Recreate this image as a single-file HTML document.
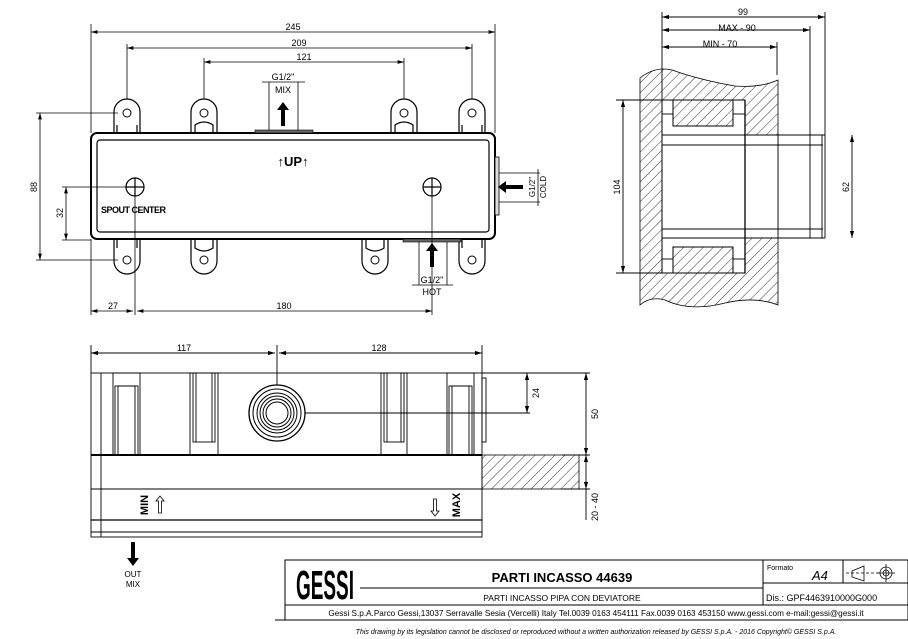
<!DOCTYPE html>
<html><head><meta charset="utf-8"><style>
html,body{margin:0;padding:0;background:#fff;width:908px;height:639px;overflow:hidden;}
svg{display:block;font-family:"Liberation Sans",sans-serif;}
</style></head><body>
<svg width="908" height="639" viewBox="0 0 908 639" xmlns="http://www.w3.org/2000/svg">
<defs>
<marker id="a" viewBox="0 0 10 6" refX="10" refY="3" markerWidth="8" markerHeight="5" orient="auto-start-reverse"><path d="M0,0L10,3L0,6z" fill="#000"/></marker>
<pattern id="h" width="7" height="7" patternUnits="userSpaceOnUse" patternTransform="rotate(45)"><line x1="0" y1="0" x2="0" y2="7" stroke="#000" stroke-width="0.8"/></pattern>
<g id="tabT"><path d="M-13,20 V-1 A13,13 0 0 1 13,-1 V20" fill="#fff" stroke="#000" stroke-width="1.2"/><circle r="4" fill="none" stroke="#000"/></g>
<g id="tabB"><path d="M-13,-20 V1 A13,13 0 0 0 13,1 V-20" fill="#fff" stroke="#000" stroke-width="1.2"/><circle r="4" fill="none" stroke="#000"/></g>
</defs>
<g stroke="#000" fill="none" stroke-width="0.8">
<line x1="91" y1="24" x2="91" y2="133"/><line x1="495" y1="24" x2="495" y2="133"/>
<line x1="91" y1="32" x2="495" y2="32" marker-start="url(#a)" marker-end="url(#a)"/>
<line x1="127" y1="44" x2="127" y2="108"/><line x1="472" y1="44" x2="472" y2="108"/>
<line x1="127" y1="48" x2="472" y2="48" marker-start="url(#a)" marker-end="url(#a)"/>
<line x1="204" y1="58" x2="204" y2="108"/><line x1="404" y1="58" x2="404" y2="108"/>
<line x1="204" y1="62" x2="404" y2="62" marker-start="url(#a)" marker-end="url(#a)"/>
<line x1="262" y1="82" x2="305" y2="82"/>
<line x1="269" y1="82" x2="269" y2="131"/><line x1="298" y1="82" x2="298" y2="131"/>
</g>
<g font-size="9" text-anchor="middle">
<text x="293" y="30">245</text><text x="299" y="46">209</text><text x="304" y="60">121</text>
<text x="283" y="80">G1/2"</text><text x="283" y="93">MIX</text>
</g>
<g>
<use href="#tabT" x="127" y="113"/><use href="#tabT" x="204" y="113"/><use href="#tabT" x="404" y="113"/><use href="#tabT" x="472" y="113"/>
<use href="#tabB" x="127" y="260"/><use href="#tabB" x="204" y="260"/><use href="#tabB" x="375" y="260"/><use href="#tabB" x="472" y="260"/>
</g>
<g stroke="#000" fill="none" stroke-width="1.2">
<path d="M195,133 v-8 q9,-6 18,0 v8"/><path d="M395,133 v-8 q9,-6 18,0 v8"/>
<path d="M195,240 v8 q9,6 18,0 v-8"/><path d="M366,240 v8 q9,6 18,0 v-8"/>
<path d="M117,133 v-8 M137,133 v-8 M462,133 v-8 M482,133 v-8"/>
<path d="M117,240 v8 M137,240 v8 M462,240 v8 M482,240 v8"/>
</g>
<rect x="91" y="133" width="404" height="106" rx="6" fill="#fff" stroke="#000" stroke-width="2"/>
<rect x="97" y="140" width="392" height="92" rx="3" fill="none" stroke="#000" stroke-width="1.2"/>
<rect x="255" y="130" width="58" height="3" fill="#666" stroke="#000" stroke-width="0.6"/>
<rect x="403" y="239" width="58" height="3" fill="#666" stroke="#000" stroke-width="0.6"/>
<rect x="495" y="157" width="4" height="58" fill="#ddd" stroke="#000" stroke-width="0.8"/>
<path d="M283,102 l-6,8 h4 v16 h4 v-16 h4z" fill="#000"/>
<path d="M432,243 l-6,8 h4 v16 h4 v-16 h4z" fill="#000"/>
<path d="M498,187 l8,-6 v4 h17 v4 h-17 v4z" fill="#000"/>
<path d="M133,566 l-6,-8 h4 v-16 h4 v16 h4z" fill="#000"/>
<text x="293" y="166" font-size="13" font-weight="bold" text-anchor="middle">↑UP↑</text>
<g stroke="#000" fill="none" stroke-width="1.2">
<circle cx="135" cy="187" r="9"/><line x1="126" y1="187" x2="144" y2="187"/><line x1="135" y1="178" x2="135" y2="196"/>
<circle cx="432" cy="187" r="9"/><line x1="423" y1="187" x2="441" y2="187"/><line x1="432" y1="178" x2="432" y2="196"/>
</g>
<text x="101" y="213" font-size="9" font-weight="bold" letter-spacing="-0.5">SPOUT  CENTER</text>
<g stroke="#000" fill="none" stroke-width="0.8">
<line x1="135" y1="196" x2="135" y2="315"/><line x1="432" y1="196" x2="432" y2="315"/>
<line x1="91" y1="239" x2="91" y2="315"/>
<line x1="91" y1="311" x2="133" y2="311" marker-start="url(#a)" marker-end="url(#a)"/>
<line x1="137" y1="311" x2="432" y2="311" marker-start="url(#a)" marker-end="url(#a)"/>
<line x1="412" y1="285" x2="453" y2="285"/>
<line x1="419" y1="242" x2="419" y2="285"/><line x1="447" y1="242" x2="447" y2="285"/>
<line x1="36" y1="113" x2="118" y2="113"/><line x1="36" y1="260" x2="118" y2="260"/>
<line x1="40" y1="113" x2="40" y2="260" marker-start="url(#a)" marker-end="url(#a)"/>
<line x1="62" y1="187" x2="126" y2="187"/><line x1="62" y1="240" x2="91" y2="240"/>
<line x1="66" y1="187" x2="66" y2="240" marker-start="url(#a)" marker-end="url(#a)"/>
<line x1="499" y1="173" x2="540" y2="173"/><line x1="499" y1="202" x2="540" y2="202"/>
<line x1="538" y1="169" x2="538" y2="206"/>
</g>
<g font-size="9" text-anchor="middle">
<text x="113" y="309">27</text><text x="284" y="309">180</text>
<text x="432" y="283">G1/2"</text><text x="432" y="295">HOT</text>
<text transform="translate(37,187) rotate(-90)">88</text>
<text transform="translate(63,213) rotate(-90)">32</text>
<text transform="translate(535,187) rotate(-90)" font-size="8">G1/2"</text>
<text transform="translate(546,187) rotate(-90)" font-size="8">COLD</text>
</g>
<path d="M640,78 Q655,66 672,70 Q700,80 735,86 Q760,88 778,80 V305 Q755,296 725,303 Q690,312 665,300 Q650,296 640,305 Z" fill="url(#h)" stroke="#000" stroke-width="0.8"/>
<rect x="662" y="100" width="83" height="173" fill="#fff" stroke="#000"/>
<path d="M673,100 h60 v26 h-60z M673,273 h60 v-26 h-60z" fill="url(#h)" stroke="#000"/>
<rect x="745" y="135" width="33" height="103" fill="#fff" stroke="none"/>
<g stroke="#000" fill="none" stroke-width="0.9">
<line x1="662" y1="135" x2="825" y2="135"/><line x1="662" y1="238" x2="825" y2="238"/>
<line x1="662" y1="145" x2="823" y2="145"/><line x1="662" y1="229" x2="823" y2="229"/>
<line x1="745" y1="100" x2="745" y2="273" stroke-width="1.3"/>
<line x1="778" y1="135" x2="778" y2="238"/><line x1="810" y1="135" x2="810" y2="238"/>
<line x1="822" y1="135" x2="822" y2="238"/><line x1="825" y1="135" x2="825" y2="238"/>
<line x1="662" y1="114" x2="673" y2="114"/><line x1="733" y1="114" x2="745" y2="114"/>
<line x1="662" y1="259" x2="673" y2="259"/><line x1="733" y1="259" x2="745" y2="259"/>
<line x1="662" y1="12" x2="662" y2="100"/><line x1="825" y1="12" x2="825" y2="135"/>
<line x1="810" y1="26" x2="810" y2="135"/><line x1="777" y1="42" x2="777" y2="75"/>
<line x1="662" y1="17" x2="825" y2="17" marker-start="url(#a)" marker-end="url(#a)"/>
<line x1="662" y1="30" x2="810" y2="30" marker-start="url(#a)" marker-end="url(#a)"/>
<line x1="662" y1="47" x2="777" y2="47" marker-start="url(#a)" marker-end="url(#a)"/>
<line x1="616" y1="100" x2="662" y2="100"/><line x1="616" y1="273" x2="662" y2="273"/>
<line x1="623" y1="100" x2="623" y2="273" marker-start="url(#a)" marker-end="url(#a)"/>
<line x1="852" y1="135" x2="852" y2="238" marker-start="url(#a)" marker-end="url(#a)"/>
</g>
<g font-size="9" text-anchor="middle">
<text x="743" y="15">99</text><text x="737" y="31">MAX - 90</text><text x="720" y="47">MIN - 70</text>
<text transform="translate(620,187) rotate(-90)">104</text>
<text transform="translate(849,187) rotate(-90)">62</text>
</g>
<g stroke="#000" fill="none" stroke-width="0.9">
<line x1="91" y1="345" x2="91" y2="373"/><line x1="482" y1="345" x2="482" y2="373"/><line x1="277" y1="345" x2="277" y2="385"/>
<line x1="91" y1="353" x2="275" y2="353" marker-start="url(#a)" marker-end="url(#a)"/>
<line x1="279" y1="353" x2="482" y2="353" marker-start="url(#a)" marker-end="url(#a)"/>
<rect x="91" y="373" width="391" height="82"/>
<line x1="101" y1="373" x2="101" y2="537"/>
<rect x="113" y="373" width="27" height="82"/><rect x="115" y="386" width="23" height="69"/><rect x="118" y="386" width="17" height="69"/>
<rect x="447" y="373" width="27" height="82"/><rect x="449" y="386" width="23" height="69"/><rect x="452" y="386" width="17" height="69"/>
<rect x="190" y="373" width="28" height="82"/><rect x="193" y="373" width="22" height="69"/><line x1="196" y1="373" x2="196" y2="442"/><line x1="212" y1="373" x2="212" y2="442"/>
<rect x="381" y="373" width="26" height="82"/><rect x="384" y="373" width="20" height="69"/><line x1="387" y1="373" x2="387" y2="442"/><line x1="401" y1="373" x2="401" y2="442"/>
<rect x="482" y="378" width="4" height="64"/>
<rect x="91" y="455" width="391" height="82"/>
<line x1="91" y1="489" x2="482" y2="489"/><line x1="91" y1="520" x2="482" y2="520" stroke-width="1.3"/><line x1="91" y1="532" x2="482" y2="532"/>
<line x1="91" y1="455" x2="482" y2="455" stroke-width="2"/>
<line x1="277" y1="413" x2="530" y2="413"/>
<line x1="482" y1="373" x2="590" y2="373"/><line x1="562" y1="455" x2="590" y2="455"/><line x1="562" y1="489" x2="590" y2="489"/>
<line x1="527" y1="373" x2="527" y2="413" marker-start="url(#a)" marker-end="url(#a)"/>
<line x1="586" y1="373" x2="586" y2="455" marker-start="url(#a)" marker-end="url(#a)"/>
<line x1="586" y1="455" x2="586" y2="489" marker-start="url(#a)" marker-end="url(#a)"/>
<line x1="586" y1="489" x2="586" y2="520"/>
</g>
<rect x="482" y="455" width="97" height="34" fill="url(#h)" stroke="#000" stroke-width="0.8"/>
<g stroke="#000" fill="#fff">
<circle cx="277" cy="413" r="28" stroke-width="1.3"/><circle cx="277" cy="413" r="24" stroke-width="1"/>
<circle cx="277" cy="413" r="20"/><circle cx="277" cy="413" r="17"/><circle cx="277" cy="413" r="14"/><circle cx="277" cy="413" r="11"/>
</g>
<g font-size="9" text-anchor="middle">
<text x="184" y="351">117</text><text x="379" y="351">128</text>
<text transform="translate(539,393) rotate(-90)">24</text>
<text transform="translate(598,414) rotate(-90)">50</text>
<text transform="translate(598,507) rotate(-90)">20 - 40</text>
<text transform="translate(148,505) rotate(-90)" font-weight="bold" font-size="11">MIN</text>
<text transform="translate(460,505) rotate(-90)" font-weight="bold" font-size="11">MAX</text>
<text x="133" y="577" font-size="8">OUT</text><text x="133" y="587" font-size="8">MIX</text>
</g>
<path d="M160,496 l-4,5 h2.5 v12 h3 v-12 h2.5z" fill="#fff" stroke="#000" stroke-width="0.8"/>
<path d="M435,516 l-4,-5 h2.5 v-12 h3 v12 h2.5z" fill="#fff" stroke="#000" stroke-width="0.8"/>
<g stroke="#000" fill="none" stroke-width="1">
<rect x="285" y="560" width="623" height="60"/>
<line x1="285" y1="605" x2="908" y2="605"/>
<line x1="763" y1="560" x2="763" y2="605"/><line x1="843" y1="560" x2="843" y2="583"/>
<line x1="763" y1="583" x2="908" y2="583"/>
<line x1="360" y1="588" x2="763" y2="588"/>
<line x1="275" y1="620" x2="285" y2="620"/>
</g>
<text x="296" y="599" font-size="30" font-weight="bold" textLength="58" lengthAdjust="spacingAndGlyphs" transform="translate(0,599) scale(1,1.35) translate(0,-599)">GESSI</text>
<text x="562" y="582" font-size="13" font-weight="bold" text-anchor="middle">PARTI INCASSO 44639</text>
<text x="562" y="601" font-size="8.5" text-anchor="middle">PARTI INCASSO PIPA CON  DEVIATORE</text>
<text x="767" y="570" font-size="7">Formato</text>
<text x="812" y="580" font-size="13" font-style="italic">A4</text>
<text x="766" y="601" font-size="9">Dis.: GPF4463910000G000</text>
<g stroke="#000" fill="none" stroke-width="0.8">
<path d="M852,571 l12,-5 v15 l-12,-4z"/><line x1="846" y1="573" x2="880" y2="573" stroke-dasharray="3,2"/>
<circle cx="886" cy="573" r="6"/><circle cx="886" cy="573" r="3"/><line x1="877" y1="573" x2="895" y2="573"/><line x1="886" y1="564" x2="886" y2="582"/>
</g>
<text x="596" y="616" font-size="8.2" text-anchor="middle">Gessi S.p.A.Parco Gessi,13037 Serravalle Sesia (Vercelli) Italy Tel.0039 0163 454111 Fax.0039 0163 453150 www.gessi.com e-mail:gessi@gessi.it</text>
<text x="596" y="634" font-size="7" font-style="italic" text-anchor="middle">This drawing by its legislation cannot be disclosed or reproduced without a written authorization released by GESSI S.p.A. - 2016 Copyright© GESSI S.p.A.</text>
</svg>
</body></html>
